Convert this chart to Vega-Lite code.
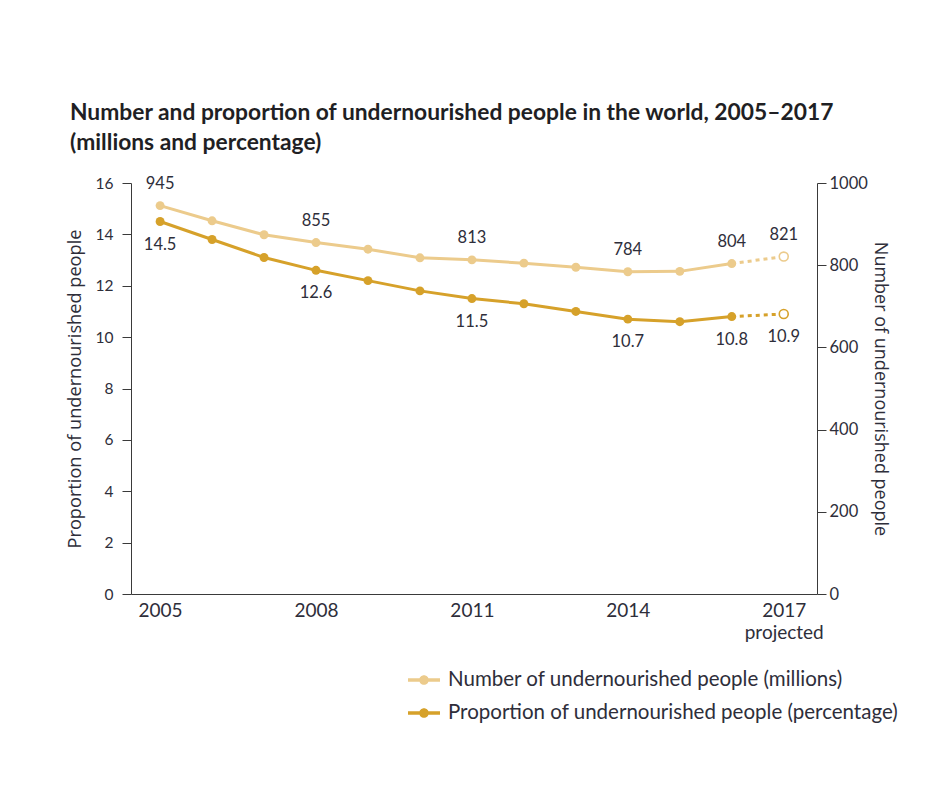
{
  "$schema": "https://vega.github.io/schema/vega-lite/v6.json",
  "width": 686,
  "height": 411,
  "autosize": "none",
  "padding": {"left": 131, "top": 183, "right": 108, "bottom": 208},
  "background": "white",
  "title": {
    "text": [
      "Number and proportion of undernourished people in the world, 2005–2017",
      "(millions and percentage)"
    ],
    "anchor": "start",
    "frame": "group",
    "font": "Lato",
    "fontSize": 22.8,
    "fontWeight": "bold",
    "color": "#1f1f24",
    "lineHeight": 30,
    "dx": -61,
    "offset": 20
  },
  "data": {
    "values": [
      {"year": 2005, "number": 945, "proportion": 14.5},
      {"year": 2006, "number": 908, "proportion": 13.8},
      {"year": 2007, "number": 874, "proportion": 13.1},
      {"year": 2008, "number": 855, "proportion": 12.6},
      {"year": 2009, "number": 839, "proportion": 12.2},
      {"year": 2010, "number": 818, "proportion": 11.8},
      {"year": 2011, "number": 813, "proportion": 11.5},
      {"year": 2012, "number": 805, "proportion": 11.3},
      {"year": 2013, "number": 795, "proportion": 11.0},
      {"year": 2014, "number": 784, "proportion": 10.7},
      {"year": 2015, "number": 785, "proportion": 10.6},
      {"year": 2016, "number": 804, "proportion": 10.8},
      {"year": 2017, "number": 821, "proportion": 10.9}
    ]
  },
  "encoding": {
    "x": {
      "field": "year",
      "type": "quantitative",
      "scale": {"domain": [2004.44, 2017.64], "nice": false, "zero": false},
      "axis": {
        "title": null,
        "values": [2005, 2008, 2011, 2014, 2017],
        "labelExpr": "datum.value == 2017 ? ['2017', 'projected'] : '' + datum.value",
        "ticks": false,
        "labelPadding": 7,
        "labelFontSize": 19,
        "labelLineHeight": 22,
        "labelBaseline": "top"
      }
    }
  },
  "layer": [
    {
      "encoding": {
        "y": {
          "field": "proportion",
          "type": "quantitative",
          "scale": {"domain": [0, 16], "nice": false},
          "axis": {
            "orient": "left",
            "title": "Proportion of undernourished people",
            "values": [0, 2, 4, 6, 8, 10, 12, 14, 16],
            "tickSize": 9,
            "labelPadding": 9,
            "labelFontSize": 15.5,
            "titleFontSize": 18.2,
            "titlePadding": 11
          }
        }
      },
      "layer": [
        {
          "transform": [{"filter": "datum.year <= 2016"}],
          "mark": {"type": "line", "color": "#d6a12a", "strokeWidth": 3}
        },
        {
          "transform": [{"filter": "datum.year >= 2016"}],
          "mark": {"type": "line", "color": "#d6a12a", "strokeWidth": 3, "strokeDash": [4, 4]}
        },
        {
          "transform": [{"filter": "datum.year <= 2016"}],
          "mark": {"type": "point", "filled": true, "opacity": 1, "size": 80},
          "encoding": {
            "color": {
              "datum": "Proportion of undernourished people (percentage)",
              "scale": {
                "domain": [
                  "Number of undernourished people (millions)",
                  "Proportion of undernourished people (percentage)"
                ],
                "range": ["#eccb8c", "#d6a12a"]
              }
            }
          }
        },
        {
          "transform": [{"filter": "datum.year == 2017"}],
          "mark": {"type": "point", "filled": true, "fill": "white", "stroke": "#d6a12a", "strokeWidth": 1.6, "opacity": 1, "size": 80}
        },
        {
          "transform": [{"filter": "indexof([2005, 2008, 2011, 2014, 2016, 2017], datum.year) >= 0"}],
          "mark": {"type": "text", "dy": 23, "fontSize": 16.5, "color": "#2e2e3a", "baseline": "middle"},
          "encoding": {"text": {"field": "proportion", "type": "quantitative", "format": ".1f"}}
        }
      ]
    },
    {
      "encoding": {
        "y": {
          "field": "number",
          "type": "quantitative",
          "scale": {"domain": [0, 1000], "nice": false},
          "axis": {
            "orient": "right",
            "title": "Number of undernourished people",
            "format": "d",
            "values": [0, 200, 400, 600, 800, 1000],
            "tickSize": 9,
            "labelPadding": 3,
            "labelFontSize": 16.5,
            "titleFontSize": 18,
            "titlePadding": 3
          }
        }
      },
      "layer": [
        {
          "transform": [{"filter": "datum.year <= 2016"}],
          "mark": {"type": "line", "color": "#eccb8c", "strokeWidth": 3}
        },
        {
          "transform": [{"filter": "datum.year >= 2016"}],
          "mark": {"type": "line", "color": "#eccb8c", "strokeWidth": 3, "strokeDash": [4, 4]}
        },
        {
          "transform": [{"filter": "datum.year <= 2016"}],
          "mark": {"type": "point", "filled": true, "opacity": 1, "size": 80},
          "encoding": {
            "color": {"datum": "Number of undernourished people (millions)"}
          }
        },
        {
          "transform": [{"filter": "datum.year == 2017"}],
          "mark": {"type": "point", "filled": true, "fill": "white", "stroke": "#eccb8c", "strokeWidth": 1.6, "opacity": 1, "size": 80}
        },
        {
          "transform": [{"filter": "indexof([2005, 2008, 2011, 2014, 2016, 2017], datum.year) >= 0"}],
          "mark": {"type": "text", "dy": -22, "fontSize": 16.5, "color": "#2e2e3a", "baseline": "middle"},
          "encoding": {"text": {"field": "number", "type": "quantitative", "format": "d"}}
        }
      ]
    }
  ],
  "resolve": {"scale": {"y": "independent"}},
  "config": {
    "font": "Lato",
    "view": {"stroke": null},
    "axis": {
      "domainColor": "#3a3a3a",
      "tickColor": "#3a3a3a",
      "labelColor": "#2e2e3a",
      "titleColor": "#2e2e3a",
      "labelFont": "Lato",
      "titleFont": "Open Sans",
      "titleFontWeight": "normal",
      "grid": false
    },
    "legend": {
      "orient": "none",
      "legendX": 277,
      "legendY": 481,
      "title": null,
      "labelFont": "Lato",
      "labelFontSize": 20.5,
      "labelLimit": 600,
      "labelColor": "#2e2e3a",
      "labelOffset": 8,
      "rowPadding": 6,
      "symbolType": "M-1,-0.11H1V0.11H-1Z M0.3,0A0.3,0.3 0 1 1 -0.3,0A0.3,0.3 0 1 1 0.3,0Z",
      "symbolSize": 1024,
      "symbolStrokeWidth": 0,
      "symbolOpacity": 1
    }
  }
}
